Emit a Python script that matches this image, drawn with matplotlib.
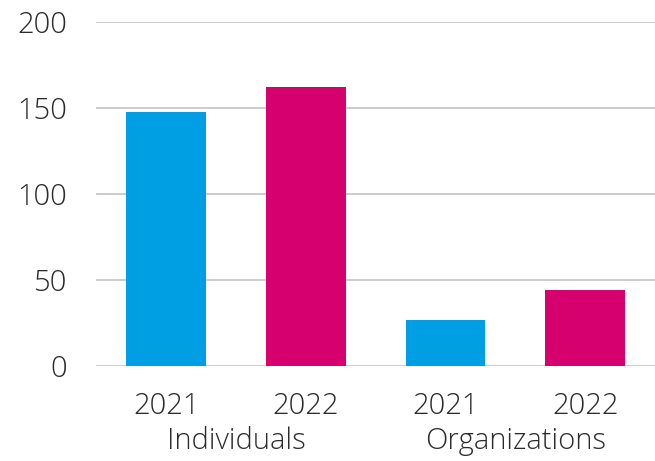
import matplotlib.pyplot as plt
import numpy as np

plt.rcParams['font.family'] = ['Open Sans', 'DejaVu Sans']

years = ['2021', '2022', '2021', '2022']
groups = ['Individuals', 'Organizations']
values = [148, 162, 27, 44]
colors = ['#009fe3', '#d6006e', '#009fe3', '#d6006e']

fig = plt.figure(figsize=(6.55, 4.61), dpi=100)
ax = fig.add_axes([0.147, 0.206, 0.853, 0.746])

x = np.arange(len(values))
ax.bar(x, values, width=0.57, color=colors, zorder=3)

ax.set_xlim(-0.5, 3.5)
ax.set_ylim(0, 200)
ax.set_yticks([0, 50, 100, 150, 200])
ax.yaxis.grid(True, color='#c8c8c8', linewidth=1.3, zorder=0)
ax.set_axisbelow(True)
for s in ax.spines.values():
    s.set_visible(False)

ax.set_xticks(x)
ax.set_xticklabels(years)
ax.tick_params(axis='both', length=0, labelsize=21, labelcolor='#2b2b2b')
ax.tick_params(axis='y', pad=21)
ax.tick_params(axis='x', pad=18)
for lab in ax.get_xticklabels() + ax.get_yticklabels():
    lab.set_fontweight('light')

# group names under each pair of years
for i, g in enumerate(groups):
    ax.text(2 * i + 0.5, -0.218, g, transform=ax.get_xaxis_transform(),
            ha='center', va='center', fontsize=21, color='#2b2b2b',
            fontweight='light')

fig.savefig('out.png', dpi=100)
